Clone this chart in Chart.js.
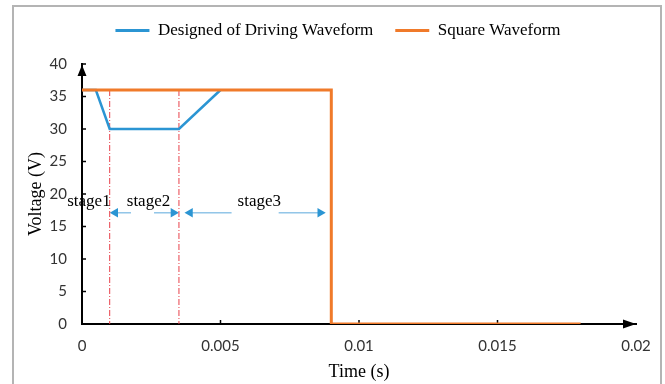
<!DOCTYPE html>
<html>
<head>
<meta charset="utf-8">
<script src="https://cdn.jsdelivr.net/npm/chart.js@4/dist/chart.umd.min.js"></script>
<style>
  html, body { margin:0; padding:0; background:#fff; }
  #wrap { width:665px; height:384px; position:relative; }
</style>
</head>
<body>
<div id="wrap"><canvas id="chart" width="665" height="384"></canvas></div>
<script>
/* ---------- data ---------- */
const driveT = [0, 0.0005, 0.001, 0.0035, 0.005];
const driveV = [36, 36, 30, 30, 36];

const squareT = [0, 0.009, 0.009, 0.018];
const squareV = [36, 36, 0, 0];

const stageBounds = [0.001, 0.0035];
const stageTopV = 36;

const arrowV = 17.1;
const arrowTail = [0.00177, 0.0026, 0.0054, 0.0071];
const arrowHead = [0.0012, 0.0033, 0.0039, 0.0086];
const arrowDir = [-90, 90, -90, 90];

const stageNames = ["stage1", "stage2", "stage3"];
const stageLabelT = [0.00025, 0.0024, 0.0064];
const stageLabelV = 18.9;

const xTicks = [0, 0.005, 0.01, 0.015, 0.02];
const yTicks = [0, 5, 10, 15, 20, 25, 30, 35, 40];

/* ---------- datasets ---------- */
const BLUE = "#2b95d3", ORANGE = "#f07a2a", RED = "#e8404a";
const pts = (xs, ys) => xs.map((x, i) => ({x, y: ys[i]}));

const datasets = [
  {label:"Designed of Driving Waveform", data:pts(driveT, driveV), borderColor:BLUE, backgroundColor:BLUE,
   borderWidth:2.5, pointRadius:0, order:1},
  {label:"Square Waveform", data:pts(squareT, squareV), borderColor:ORANGE, backgroundColor:ORANGE,
   borderWidth:3, pointRadius:0, order:0}
];
stageBounds.forEach(t => datasets.push({
  label:"bound", data:[{x:t, y:stageTopV}, {x:t, y:0}], borderColor:RED, borderWidth:1,
  borderDash:[6,2,1,2], pointRadius:0, order:2
}));
arrowTail.forEach((t, i) => datasets.push({
  label:"arrow", data:[{x:t, y:arrowV}, {x:arrowHead[i], y:arrowV}], borderColor:"#5aa8dc", borderWidth:1,
  pointRadius:[0, 5.5], pointStyle:"triangle", pointRotation:arrowDir[i],
  pointBackgroundColor:BLUE, pointBorderColor:BLUE, pointBorderWidth:0, order:3
}));

/* ---------- small plugins ---------- */
const frame = {
  id:"frame",
  beforeDraw(c){
    const ctx = c.ctx;
    ctx.save();
    ctx.fillStyle = "#fff";
    ctx.fillRect(0, 0, c.width, c.height);
    ctx.strokeStyle = "#b4b4b4";
    ctx.lineWidth = 2;
    ctx.strokeRect(13, 6, 648, 400);
    ctx.restore();
  }
};

const axisDeco = {
  id:"axisDeco",
  beforeDatasetsDraw(c){
    const {ctx, chartArea:a, scales:{x, y}} = c;
    ctx.save();
    ctx.strokeStyle = "#000";
    ctx.fillStyle = "#000";
    ctx.lineWidth = 1.5;
    yTicks.forEach(v => { if (v === 0) return;
      const py = y.getPixelForValue(v);
      ctx.beginPath(); ctx.moveTo(a.left, py); ctx.lineTo(a.left + 4, py); ctx.stroke();
    });
    xTicks.forEach(v => { if (v === 0 || v === 0.02) return;
      const px = x.getPixelForValue(v);
      ctx.beginPath(); ctx.moveTo(px, a.bottom); ctx.lineTo(px, a.bottom - 4); ctx.stroke();
    });
    // arrow heads on the axes
    ctx.beginPath();
    ctx.moveTo(a.left, a.top + 1); ctx.lineTo(a.left - 4.5, a.top + 12); ctx.lineTo(a.left + 4.5, a.top + 12);
    ctx.closePath(); ctx.fill();
    ctx.beginPath();
    ctx.moveTo(a.right, a.bottom); ctx.lineTo(a.right - 13, a.bottom - 4.5); ctx.lineTo(a.right - 13, a.bottom + 4.5);
    ctx.closePath(); ctx.fill();
    ctx.restore();
  },
  afterDatasetsDraw(c){
    const {ctx, scales:{x, y}} = c;
    ctx.save();
    ctx.font = "17px 'Liberation Serif'";
    ctx.fillStyle = "#000";
    ctx.textAlign = "center";
    ctx.textBaseline = "middle";
    stageNames.forEach((s, i) => ctx.fillText(s, x.getPixelForValue(stageLabelT[i]), y.getPixelForValue(stageLabelV)));
    ctx.restore();
  }
};

/* ---------- chart ---------- */
new Chart(document.getElementById("chart"), {
  type:"line",
  data:{datasets},
  options:{
    responsive:false,
    animation:false,
    layout:{padding:{top:0, right:0, bottom:0, left:11}},
    plugins:{
      tooltip:{enabled:false},
      // empty boxes used only as spacers
      title:{display:true, text:"", position:"right", fullSize:false, font:{size:10}, padding:{top:0, bottom:17}},
      subtitle:{display:true, text:"", position:"top", weight:500, font:{size:10}, padding:{top:0, bottom:3}},
      legend:{
        display:true,
        labels:{
          color:"#000",
          font:{family:"'Liberation Serif'", size:17},
          boxWidth:34, boxHeight:3, padding:22,
          generateLabels(chart){
            return Chart.defaults.plugins.legend.labels.generateLabels(chart)
              .filter(l => l.datasetIndex < 2)
              .sort((p, q) => p.datasetIndex - q.datasetIndex)
              .map(l => Object.assign(l, {lineWidth:0, fillStyle:l.strokeStyle}));
          }
        }
      }
    },
    scales:{
      x:{
        type:"linear", min:0, max:0.02,
        grid:{display:false, drawTicks:false},
        border:{display:true, color:"#000", width:2},
        afterBuildTicks(s){ s.ticks = xTicks.map(v => ({value:v})); },
        afterFit(s){ s.height = 60; },
        ticks:{padding:13, color:"#333", font:{family:"Lato", size:15}, maxRotation:0,
               callback:v => String(+v.toFixed(3))},
        title:{display:true, text:"Time (s)", color:"#000",
               font:{family:"'Liberation Serif'", size:18}, padding:{top:0, bottom:1}}
      },
      y:{
        type:"linear", min:0, max:40,
        grid:{display:false, drawTicks:false},
        border:{display:true, color:"#000", width:2},
        afterBuildTicks(s){ s.ticks = yTicks.map(v => ({value:v})); },
        afterFit(s){ s.width = 71; },
        ticks:{padding:15, color:"#333", font:{family:"Lato", size:15}},
        title:{display:true, text:"Voltage (V)", color:"#000",
               font:{family:"'Liberation Serif'", size:18}, padding:{top:14, bottom:0}}
      }
    }
  },
  plugins:[frame, axisDeco]
});
</script>
</body>
</html>
